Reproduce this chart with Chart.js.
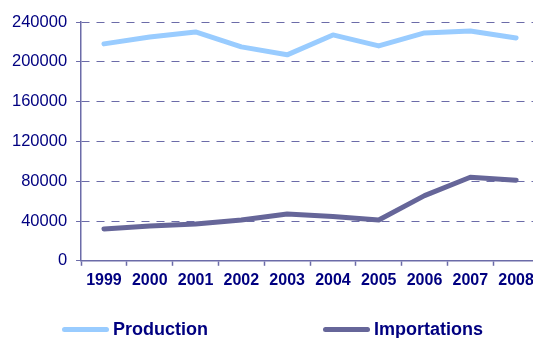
<!DOCTYPE html>
<html>
<head>
<meta charset="utf-8">
<script src="https://cdn.jsdelivr.net/npm/chart.js@4/dist/chart.umd.min.js"></script>
<style>
  html, body { margin: 0; padding: 0; background: #fff; overflow: hidden; }
  #wrap { position: relative; width: 545px; height: 338px; }
  #legend { position: absolute; left: 0; top: 319px; width: 545px; height: 20px; }
  .item { position: absolute; top: 0; display: flex; align-items: center; height: 20px;
          font: bold 18px "Liberation Sans", Arial, sans-serif; color: #000080; }
  .swatch { width: 47px; height: 5px; border-radius: 3px; margin-right: 4px; }
</style>
</head>
<body>
<div id="wrap">
  <canvas id="chart" width="545" height="338"></canvas>
  <div id="legend"></div>
</div>
<script>
const years = ['1999', '2000', '2001', '2002', '2003', '2004', '2005', '2006', '2007', '2008'];
const production = [218000, 225000, 230000, 215000, 207000, 227000, 216000, 229000, 231000, 224000];
const importations = [32000, 35000, 37000, 41000, 47000, 44500, 41000, 65500, 84000, 81000];
const yTicks = [0, 40000, 80000, 120000, 160000, 200000, 240000];

const navy = '#000080';
const axisColor = '#6b6ba8';
const font = '"Liberation Sans", Arial, sans-serif';

// legend placed under the plot, built from the datasets
const legendOffsets = [62, 323];
const htmlLegend = {
  id: 'htmlLegend',
  afterUpdate(chart) {
    const box = document.getElementById('legend');
    box.innerHTML = '';
    chart.data.datasets.forEach((ds, i) => {
      const item = document.createElement('div');
      item.className = 'item';
      item.style.left = legendOffsets[i] + 'px';
      const sw = document.createElement('span');
      sw.className = 'swatch';
      sw.style.background = ds.borderColor;
      const label = document.createElement('span');
      label.textContent = ds.label;
      item.appendChild(sw);
      item.appendChild(label);
      box.appendChild(item);
    });
  }
};

new Chart(document.getElementById('chart'), {
  type: 'line',
  data: {
    labels: years,
    datasets: [
      { label: 'Production', data: production, borderColor: '#99ccff', backgroundColor: '#99ccff' },
      { label: 'Importations', data: importations, borderColor: '#666699', backgroundColor: '#666699' }
    ]
  },
  options: {
    responsive: false,
    animation: false,
    layout: { padding: { left: 3, right: 6, top: 22, bottom: 43 } },
    elements: {
      line: { borderWidth: 5, tension: 0, borderCapStyle: 'round', borderJoinStyle: 'round' },
      point: { radius: 0, hoverRadius: 0 }
    },
    plugins: { legend: { display: false }, tooltip: { enabled: false } },
    scales: {
      x: {
        offset: true,
        grid: { offset: true, drawOnChartArea: false, color: axisColor, tickLength: 5, tickWidth: 1.5 },
        border: { color: axisColor, width: 1.5 },
        ticks: { color: navy, font: { family: font, size: 16, weight: 'bold' }, padding: 5, maxRotation: 0, autoSkip: false }
      },
      y: {
        min: 0,
        max: 240000,
        afterBuildTicks(scale) { scale.ticks = yTicks.map(v => ({ value: v })); },
        grid: { color: axisColor, lineWidth: 1, tickLength: 5, tickBorderDash: [], tickColor: axisColor },
        border: { color: axisColor, width: 1.5, dash: [8, 7] },
        ticks: { color: navy, font: { family: font, size: 16.5 }, padding: 9, callback: v => String(v) }
      }
    }
  },
  plugins: [htmlLegend]
});
</script>
</body>
</html>
